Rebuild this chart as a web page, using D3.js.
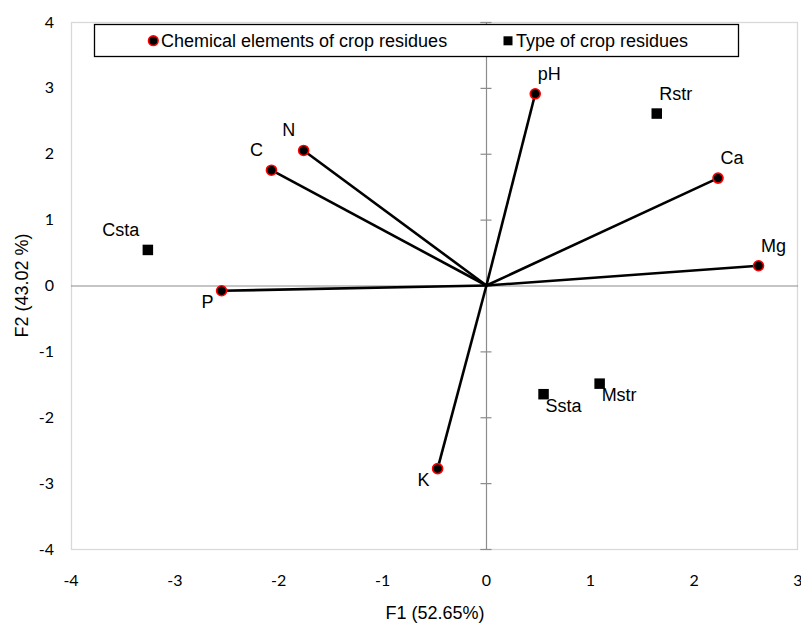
<!DOCTYPE html>
<html>
<head>
<meta charset="utf-8">
<script src="https://cdn.jsdelivr.net/npm/d3@7"></script>
<style>
  body { margin: 0; background: #fff; }
  svg { display: block; }
</style>
</head>
<body>
<div id="chart"></div>
<script>
// chemical elements (variables) - F1 / F2 coordinates
const elementNames = ['pH', 'Ca', 'Mg', 'N', 'C', 'P', 'K'];
const elementF1 = [0.47, 2.23, 2.62, -1.76, -2.07, -2.55, -0.47];
const elementF2 = [2.91, 1.63, 0.30, 2.05, 1.75, -0.08, -2.78];

// types of crop residues (observations)
const residueNames = ['Rstr', 'Csta', 'Ssta', 'Mstr'];
const residueF1 = [1.64, -3.26, 0.55, 1.09];
const residueF2 = [2.61, 0.54, -1.65, -1.49];

const xTicks = [-4, -3, -2, -1, 0, 1, 2, 3];
const yTicks = [-4, -3, -2, -1, 0, 1, 2, 3, 4];

const legendLabels = ['Chemical elements of crop residues', 'Type of crop residues'];
const xTitle = 'F1 (52.65%)';
const yTitle = 'F2 (43.02 %)';

// where each point label sits relative to its marker
const labelSide = {
  pH: 'ur', Ca: 'ur', Mg: 'ur', N: 'ul', C: 'ul', P: 'll', K: 'll',
  Rstr: 'ur', Csta: 'ul', Ssta: 'lr', Mstr: 'lr'
};
const sides = {
  ur: { dx: 2.5, dy: -14, anchor: 'start' },
  ul: { dx: -8.5, dy: -14.3, anchor: 'end' },
  ll: { dx: -8, dy: 17.5, anchor: 'end' },
  lr: { dx: 2, dy: 17.7, anchor: 'start' }
};

const W = 801, H = 624;
const margin = { top: 22, right: 3, bottom: 75, left: 71 };

const svg = d3.select('#chart').append('svg')
  .attr('width', W)
  .attr('height', H);

const x = d3.scaleLinear().domain([-4, 3]).range([margin.left, W - margin.right]);
const y = d3.scaleLinear().domain([-4, 4]).range([H - margin.bottom, margin.top]);

const labelFont = 'Liberation Sans, Arial, sans-serif';
const tickFont = 'Lato, Carlito, Calibri, sans-serif';

// plot frame
svg.append('rect')
  .attr('x', x(-4) + 0.5)
  .attr('y', y(4) + 0.5)
  .attr('width', x(3) - x(-4) - 1)
  .attr('height', y(-4) - y(4))
  .attr('fill', 'none')
  .attr('stroke', '#d9d9d9')
  .attr('stroke-width', 1.3);

// zero axes: vertical one has crossing ticks, horizontal one is a plain line
const axisColor = '#8c8c8c';
const yAxis = svg.append('g')
  .attr('transform', 'translate(' + Math.round(x(0)) + ',0)')
  .call(d3.axisLeft(y).tickValues(yTicks).tickSize(5.5).tickFormat(''));
yAxis.selectAll('.tick line').clone().attr('x2', 5.5);
yAxis.selectAll('line, path').attr('stroke', axisColor).attr('stroke-width', 1.2);

const xAxis = svg.append('g')
  .attr('transform', 'translate(0,' + Math.round(y(0)) + ')')
  .call(d3.axisBottom(x).tickValues(xTicks).tickSize(0).tickFormat(''));
xAxis.selectAll('.tick').remove();
xAxis.select('.domain')
  .attr('d', 'M' + x(-4) + ',0H' + x(3))
  .attr('stroke', axisColor)
  .attr('stroke-width', 1.2);

// tick labels (outside the plot, Excel style)
svg.append('g').selectAll('text')
  .data(yTicks)
  .join('text')
  .attr('x', 54)
  .attr('y', d => y(d))
  .attr('dy', '0.35em')
  .attr('text-anchor', 'end')
  .style('font-family', tickFont)
  .style('font-size', '16px')
  .style('fill', '#000')
  .text(d => d);

svg.append('g').selectAll('text')
  .data(xTicks)
  .join('text')
  .attr('x', d => x(d))
  .attr('y', 580)
  .attr('dy', '0.35em')
  .attr('text-anchor', 'middle')
  .style('font-family', tickFont)
  .style('font-size', '16px')
  .style('fill', '#000')
  .text(d => d);

// axis titles
svg.append('text')
  .attr('x', 435)
  .attr('y', 619)
  .attr('text-anchor', 'middle')
  .style('font-family', labelFont)
  .style('font-size', '18px')
  .text(xTitle);

svg.append('text')
  .attr('transform', 'translate(28,' + y(0) + ') rotate(-90)')
  .attr('text-anchor', 'middle')
  .style('font-family', labelFont)
  .style('font-size', '18px')
  .text(yTitle);

// element vectors
const elements = elementNames.map((n, i) => ({ name: n, f1: elementF1[i], f2: elementF2[i] }));
const residues = residueNames.map((n, i) => ({ name: n, f1: residueF1[i], f2: residueF2[i] }));

svg.append('g').selectAll('line')
  .data(elements)
  .join('line')
  .attr('x1', x(0))
  .attr('y1', y(0))
  .attr('x2', d => x(d.f1))
  .attr('y2', d => y(d.f2))
  .attr('stroke', '#000')
  .attr('stroke-width', 2.6);

svg.append('g').selectAll('circle')
  .data(elements)
  .join('circle')
  .attr('cx', d => x(d.f1))
  .attr('cy', d => y(d.f2))
  .attr('r', 5)
  .attr('fill', '#000')
  .attr('stroke', '#ff0000')
  .attr('stroke-width', 1.6);

const sq = 10.5;
svg.append('g').selectAll('rect')
  .data(residues)
  .join('rect')
  .attr('x', d => x(d.f1) - sq / 2)
  .attr('y', d => y(d.f2) - sq / 2)
  .attr('width', sq)
  .attr('height', sq)
  .attr('fill', '#000');

// point labels
svg.append('g').selectAll('text')
  .data(elements.concat(residues))
  .join('text')
  .attr('x', d => x(d.f1) + sides[labelSide[d.name]].dx)
  .attr('y', d => y(d.f2) + sides[labelSide[d.name]].dy)
  .attr('text-anchor', d => sides[labelSide[d.name]].anchor)
  .style('font-family', labelFont)
  .style('font-size', '18px')
  .style('fill', '#000')
  .text(d => d.name);

// legend
const legend = svg.append('g');
legend.append('rect')
  .attr('x', 94.5)
  .attr('y', 24.5)
  .attr('width', 644)
  .attr('height', 32)
  .attr('fill', '#fff')
  .attr('stroke', '#000')
  .attr('stroke-width', 1.3);

legend.append('circle')
  .attr('cx', 153.3)
  .attr('cy', 40.7)
  .attr('r', 4.8)
  .attr('fill', '#000')
  .attr('stroke', '#ff0000')
  .attr('stroke-width', 1.6);
legend.append('text')
  .attr('x', 161)
  .attr('y', 40.7)
  .attr('dy', '0.35em')
  .style('font-family', labelFont)
  .style('font-size', '18px')
  .text(legendLabels[0]);

legend.append('rect')
  .attr('x', 503.5)
  .attr('y', 36.3)
  .attr('width', 9)
  .attr('height', 9)
  .attr('fill', '#000');
legend.append('text')
  .attr('x', 516)
  .attr('y', 40.7)
  .attr('dy', '0.35em')
  .style('font-family', labelFont)
  .style('font-size', '18px')
  .text(legendLabels[1]);
</script>
</body>
</html>
